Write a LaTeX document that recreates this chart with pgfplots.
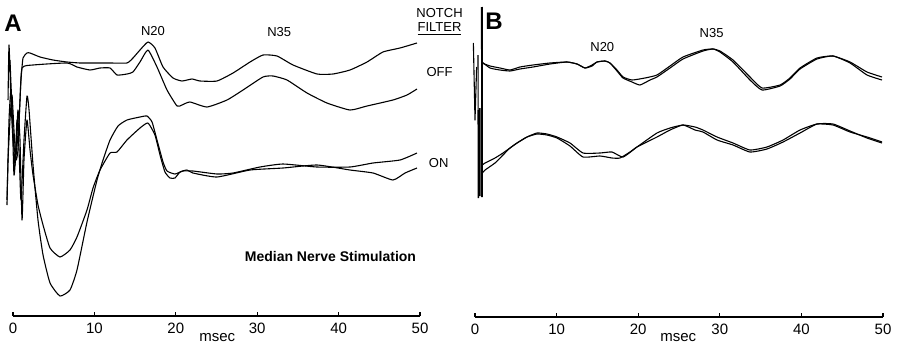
\documentclass[border=0pt]{standalone}
\usepackage{fontspec}
\setmainfont{Liberation Sans}
\usepackage{pgfplots}
\pgfplotsset{compat=1.18}
\begin{document}
\begin{tikzpicture}
\pgfplotsset{
  panel/.style={scale only axis, clip=false, enlargelimits=false, xmin=0, xmax=50, ymax=348,
    axis x line=bottom, axis y line=none, axis line style={-, line width=0.6pt},
    xtick={0,10,20,30,40,50}, tick align=inside, major tick length=2pt,
    tick style={line width=0.6pt, black},
    xticklabel style={font=\fontsize{7.5}{8}\selectfont},
    /pgf/number format/assume math mode=true,
    anchor=north west},
  trace/.style={black, line width=0.55pt, line join=round, no marks, smooth, tension=0.3},
  spike/.style={black, line width=0.55pt, line join=round, no marks},
}
% ---------------- Panel A ----------------
\begin{axis}[panel, at={(6.5pt,0pt)}, width=203.5pt, height=158pt, ymin=32]
% OFF traces
\addplot[trace] coordinates {(-0.61,248) (-0.49,303) (-0.25,248) (0,208) (0.37,193) (0.74,228) (0.98,268) (1.23,290) (1.72,295) (2.09,295) (3.32,291) (4.91,288) (6.63,286) (8.23,285) (9.83,285) (11.92,285) (14.00,285) (14.74,290) (15.60,298) (16.58,306) (17.44,300) (18.43,281) (19.66,270) (20.76,267) (21.99,269) (22.97,267) (25.06,267) (27.03,275) (29.12,286) (30.71,293) (32.43,292) (34.40,283) (37.35,274) (39.31,274) (41.40,278) (43.49,286) (45.45,296) (47.54,300) (49.63,305)};
\addplot[trace] coordinates {(-0.74,148) (-0.61,188) (-0.37,228) (-0.12,253) (0.12,218) (0.37,188) (0.61,198) (0.86,248) (1.11,280) (2.46,283) (6.63,285) (7.86,281) (9.46,278) (10.69,280) (11.92,280) (12.78,273) (14.00,274) (14.74,276) (15.60,286) (16.58,298) (17.69,281) (18.92,258) (20.15,242) (20.76,243) (21.74,246) (23.83,241) (26.29,248) (28.26,258) (30.71,271) (31.94,272) (33.66,268) (36.12,255) (38.57,245) (41.40,238) (43.49,242) (46.68,248) (48.40,253) (49.63,259)};
% ON traces
\addplot[trace] coordinates {(-0.37,288) (-0.12,238) (0.12,173) (0.37,198) (0.61,238) (0.86,208) (1.11,128) (1.35,188) (1.72,228) (2.09,198) (2.46,173) (3.07,143) (3.69,123) (4.55,100) (5.77,91) (7.00,98) (7.86,111) (9.09,138) (9.83,160) (10.69,178) (11.92,195) (12.78,196) (14.00,208) (15.60,220) (16.58,225) (17.44,213) (18.06,193) (18.67,176) (19.29,170) (19.90,170) (20.52,176) (21.38,178) (22.11,175) (25.06,171) (29.12,178) (33.17,180) (37.35,183) (41.40,178) (44.23,175) (46.68,168) (48.16,175) (49.63,180)};
\addplot[trace] coordinates {(-0.74,143) (-0.49,228) (-0.25,258) (0,218) (0.25,183) (0.49,228) (0.74,198) (0.98,148) (1.35,208) (1.72,252) (1.97,238) (2.46,183) (3.07,128) (3.69,93) (4.55,65) (5.77,52) (7.00,58) (7.86,78) (9.09,126) (10.32,168) (11.06,188) (11.92,208) (12.90,222) (14.00,228) (15.60,231) (16.46,232) (17.08,226) (17.69,208) (18.43,186) (18.92,177) (19.90,174) (20.88,177) (22.11,177) (25.06,174) (27.03,175) (30.34,181) (33.17,184) (37.35,181) (41.40,181) (44.23,185) (47.54,188) (49.63,195)};
\node[font=\bfseries\fontsize{12}{12}\selectfont] at (axis cs:0,325) {A};
\node[font=\fontsize{6.5}{7}\selectfont] at (axis cs:17.2,317) {N20};
\node[font=\fontsize{6.5}{7}\selectfont] at (axis cs:32.7,316) {N35};
\node[font=\fontsize{6.5}{7}\selectfont] at (axis cs:52.4,335) {NOTCH};
\node[font=\fontsize{6.5}{7}\selectfont] at (axis cs:52.4,319) {\underline{FILTER}};
\node[font=\fontsize{6.5}{7}\selectfont] at (axis cs:52.4,276) {OFF};
\node[font=\fontsize{6.5}{7}\selectfont] at (axis cs:52.3,185) {ON};
\node[font=\bfseries\fontsize{7}{8}\selectfont] at (axis cs:39.0,92) {Median Nerve Stimulation};
\node[font=\fontsize{7.5}{8}\selectfont] at (axis cs:25.1,10) {msec};
\end{axis}
% ---------------- Panel B ----------------
\begin{axis}[panel, at={(237.5pt,0pt)}, width=204pt, height=158.5pt, ymin=31]
% stimulus artefact
\addplot[spike, line width=0.9pt] coordinates {(0.84,341) (0.86,151)};
\addplot[spike, line width=0.8pt] coordinates {(0.40,238) (0.42,150)};
\addplot[spike, line width=0.8pt] coordinates {(0.58,240) (0.60,152)};
\addplot[spike] coordinates {(0.37,293) (0.38,238)};
\addplot[spike] coordinates {(-0.20,305) (0.0,228) (0.20,281)};
% OFF traces
\addplot[trace] coordinates {(0.86,285) (1.84,282) (3.06,280) (4.29,278) (5.51,281) (7.11,283) (9.19,285) (11.27,286) (12.50,284) (13.48,280) (14.34,282) (14.95,286) (15.93,287) (16.54,285) (17.40,278) (18.14,271) (19.24,268) (20.83,270) (22.30,273) (23.90,282) (25.49,291) (27.94,298) (29.17,299) (30.02,297) (31.62,288) (33.70,271) (35.17,260) (37.38,263) (38.60,270) (39.83,280) (41.91,290) (43.87,292) (45.96,286) (48.04,276) (49.88,271)};
\addplot[trace] coordinates {(0.86,286) (1.84,280) (3.06,278) (4.29,277) (5.51,279) (7.11,281) (9.19,284) (11.27,286) (12.50,284) (13.48,280) (14.34,283) (14.95,286) (15.93,287) (16.54,285) (17.40,277) (18.14,270) (19.24,266) (20.22,263) (21.45,268) (22.30,271) (23.90,280) (25.49,289) (27.94,297) (29.17,299) (30.02,296) (31.62,286) (33.70,268) (35.17,258) (37.38,262) (38.60,269) (39.83,279) (41.91,289) (43.87,292) (45.96,285) (48.04,273) (49.88,268)};
% ON traces
\addplot[trace] coordinates {(0.9,183) (1.23,185) (2.45,190) (3.43,195) (4.29,200) (5.15,205) (6.37,211) (7.60,215) (8.82,214) (10.05,211) (11.64,205) (13.24,195) (15.32,195) (16.79,196) (18.14,191) (19.85,201) (22.30,215) (23.90,220) (25.49,223) (26.96,221) (27.94,218) (29.66,211) (31.62,205) (33.70,198) (35.78,201) (37.75,208) (39.83,218) (41.91,224) (43.87,223) (45.96,216) (48.04,211) (49.88,206)};
\addplot[trace] coordinates {(0.9,175) (1.23,178) (2.45,185) (3.43,193) (4.29,200) (5.15,205) (6.37,211) (7.60,214) (8.82,213) (10.05,210) (11.64,202) (13.24,191) (15.32,192) (16.79,190) (17.77,190) (18.99,196) (19.85,201) (22.30,211) (23.90,218) (25.49,223) (26.96,218) (27.94,216) (29.66,208) (31.62,203) (33.70,196) (35.78,199) (37.75,206) (39.83,215) (41.91,224) (43.87,224) (45.96,217) (48.04,210) (49.88,205)};
\node[font=\bfseries\fontsize{12}{12}\selectfont] at (axis cs:2.33,327) {B};
\node[font=\fontsize{6.5}{7}\selectfont] at (axis cs:15.6,301) {N20};
\node[font=\fontsize{6.5}{7}\selectfont] at (axis cs:29.0,315) {N35};
\node[font=\fontsize{7.5}{8}\selectfont] at (axis cs:24.9,10) {msec};
\end{axis}
\pgfresetboundingbox
\path[use as bounding box] (0,0) rectangle (448.5pt,-174pt);
\end{tikzpicture}
\end{document}
